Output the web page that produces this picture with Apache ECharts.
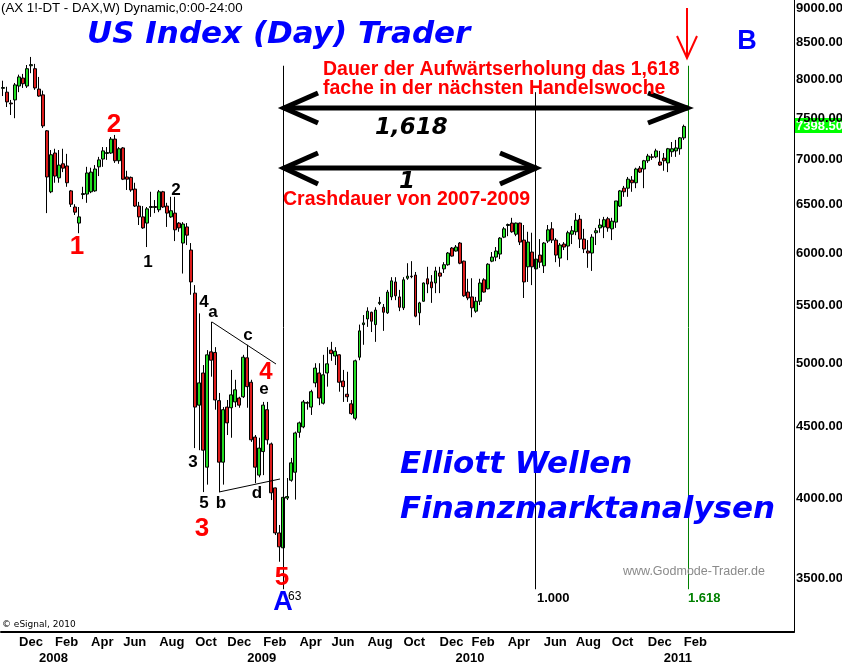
<!DOCTYPE html>
<html>
<head>
<meta charset="utf-8">
<script src="https://cdn.jsdelivr.net/npm/echarts@6/dist/echarts.min.js"></script>
<style>
  html, body { margin: 0; padding: 0; background: #fff; }
  #chart { width: 842px; height: 663px; }
</style>
</head>
<body>
<div id="chart"></div>
<script>
// DAX future, weekly bars. first bar = week of Mon 2007-11-05
const firstMonday = Date.UTC(2007, 10, 5);
const weekSlots = 198; // bars + empty space on the right

const open = [
  7880, 7830, 7690, 7730, 7910, 8015, 7910, 8180, 8140, 7870,
  7795, 7345, 6640, 7080, 6795, 6955, 6930, 6650, 6475, 6305,
  6610, 6615, 6640, 6650, 6920, 7010, 7075, 7080, 7245, 6990,
  7140, 6805, 6800, 6670, 6485, 6370, 6305, 6470, 6480, 6445,
  6640, 6485, 6370, 6410, 6305, 6100, 6265, 6030, 5615, 4665,
  4920, 4210, 5095, 5090, 4700, 4245, 4650, 4645, 4690, 4720,
  4730, 5045, 4845, 4425, 4155, 4320, 4630, 4375, 4068, 3776,
  3684, 4000, 4120, 4175, 4460, 4500, 4685, 4650, 4840, 4920,
  4680, 4920, 5110, 5060, 5070, 4855, 4750, 4675, 4565, 5050,
  5330, 5380, 5440, 5330, 5520, 5485, 5435, 5580, 5720, 5580,
  5480, 5755, 5775, 5785, 5435, 5540, 5750, 5720, 5710, 5805,
  5845, 5885, 6050, 6020, 6100, 5920, 5625, 5580, 5450, 5540,
  5740, 5655, 5920, 5960, 5990, 6160, 6280, 6305, 6190, 6305,
  6130, 5865, 6010, 5845, 5980, 5875, 6120, 6245, 6130, 5950,
  6090, 6070, 6190, 6215, 6345, 6140, 6020, 6000, 6205, 6255,
  6265, 6350, 6245, 6315, 6485, 6680, 6680, 6770, 6740, 6905,
  6895, 6990, 7035, 7035, 6975, 7020, 6965, 7095, 7105, 7130,
  7260
];
const close = [
  7890, 7705, 7680, 7925, 8030, 7940, 8140, 8195, 7885, 7780,
  7405, 6805, 7060, 6815, 6940, 6905, 6740, 6505, 6420, 6370,
  6620, 6850, 6860, 6895, 7000, 7105, 7085, 7245, 6990, 7130,
  6780, 6780, 6660, 6485, 6370, 6255, 6455, 6480, 6470, 6640,
  6475, 6410, 6435, 6235, 6255, 6295, 6180, 5720, 4650, 4840,
  4330, 5070, 5025, 4705, 4245, 4630, 4530, 4745, 4785, 4665,
  5050, 4810, 4405, 4210, 4345, 4665, 4405, 4035, 3776, 3690,
  4005, 4010, 4240, 4455, 4530, 4690, 4680, 4770, 4960, 4720,
  4905, 4995, 5080, 5100, 4845, 4810, 4730, 4600, 5020, 5275,
  5345, 5450, 5360, 5460, 5530, 5440, 5625, 5730, 5590, 5485,
  5740, 5775, 5770, 5405, 5525, 5710, 5700, 5665, 5825, 5775,
  5885, 6000, 5970, 6060, 5900, 5590, 5570, 5480, 5540, 5710,
  5625, 5890, 5960, 6020, 6150, 6245, 6290, 6215, 6305, 6110,
  5720, 6110, 5865, 5940, 5910, 6100, 6235, 6130, 5980, 6080,
  6060, 6205, 6225, 6335, 6140, 6040, 6000, 6160, 6225, 6285,
  6340, 6255, 6325, 6540, 6650, 6640, 6780, 6740, 6895, 6860,
  6990, 7045, 7030, 7105, 6940, 6990, 7130, 7130, 7140, 7260,
  7398.5
];
const low = [
  7780, 7640, 7540, 7500, 7830, 7885, 7885, 8080, 7860, 7770,
  7380, 6410, 6625, 6740, 6740, 6860, 6695, 6475, 6390, 6200,
  6560, 6520, 6625, 6640, 6815, 6920, 7000, 7070, 6965, 6955,
  6770, 6660, 6640, 6475, 6285, 6245, 6060, 6370, 6410, 6420,
  6465, 6265, 6360, 6120, 6215, 5800, 6080, 5600, 4345, 4330,
  4040, 4090, 4890, 4630, 4040, 4090, 4440, 4420, 4650, 4645,
  4720, 4645, 4390, 4100, 4140, 4155, 4370, 3987, 3763, 3600,
  3670, 3987, 4110, 3990, 4420, 4490, 4630, 4590, 4805, 4665,
  4670, 4810, 5020, 4985, 4770, 4690, 4690, 4590, 4550, 5025,
  5155, 5310, 5265, 5180, 5505, 5275, 5425, 5550, 5550, 5450,
  5460, 5740, 5755, 5395, 5325, 5535, 5615, 5525, 5615, 5615,
  5805, 5875, 5965, 6015, 5890, 5580, 5550, 5395, 5435, 5505,
  5620, 5650, 5910, 5920, 5940, 6150, 6170, 6205, 6170, 6080,
  5570, 5720, 5690, 5815, 5855, 5805, 6100, 6100, 5910, 5865,
  6030, 5930, 6090, 6180, 6050, 6000, 5855, 5825, 6080, 6205,
  6150, 6215, 6130, 6255, 6475, 6585, 6585, 6640, 6680, 6850,
  6680, 6965, 7000, 7020, 6930, 6875, 6860, 7035, 7035, 7060,
  7235
];
const high = [
  7980, 7900, 7730, 7950, 8060, 8070, 8190, 8300, 8205, 8030,
  7850, 7355, 7115, 7130, 7115, 7130, 7070, 6660, 6505, 6475,
  6695, 6920, 6910, 6940, 7035, 7150, 7150, 7270, 7295, 7150,
  7150, 6875, 6810, 6740, 6530, 6485, 6475, 6640, 6550, 6660,
  6650, 6520, 6585, 6585, 6315, 6315, 6305, 6100, 5690, 5430,
  4985, 5110, 5355, 5135, 4760, 4650, 4705, 4945, 4865, 4730,
  5070, 5155, 4865, 4440, 4420, 4690, 4690, 4385, 4070, 3826,
  4020, 4135, 4275, 4465, 4540, 4705, 4695, 4785, 5000, 5000,
  5070, 5135, 5180, 5135, 5075, 4945, 4930, 4705, 5030, 5330,
  5415, 5485, 5445, 5485, 5580, 5515, 5645, 5765, 5765, 5645,
  5765, 5900, 5920, 5815, 5535, 5715, 5865, 5785, 5865, 5865,
  5910, 6010, 6060, 6080, 6110, 5925, 5750, 5755, 5580, 5750,
  5755, 5900, 6010, 6060, 6160, 6265, 6300, 6360, 6310, 6310,
  6285, 6215, 6205, 6030, 6140, 6110, 6285, 6315, 6150, 6100,
  6110, 6225, 6275, 6410, 6390, 6245, 6130, 6190, 6255, 6350,
  6370, 6370, 6360, 6540, 6660, 6705, 6805, 6815, 6910, 6930,
  7000, 7070, 7070, 7130, 7105, 7080, 7140, 7210, 7235, 7270,
  7420
];

const priceTicks = [3500, 4000, 4500, 5000, 5500, 6000, 6500, 7000, 7500, 8000, 8500, 9000];
const monthNames = ['Jan', 'Feb', 'Mar', 'Apr', 'May', 'Jun', 'Jul', 'Aug', 'Sep', 'Oct', 'Nov', 'Dec'];
const shownMonths = [11, 1, 3, 5, 7, 9]; // Dec Feb Apr Jun Aug Oct
const fibBars = [70, 133, 171]; // 0 / 1.000 / 1.618
const lastPrice = 7398.5;

const lg = Math.log10;

// week categories (Monday dates)
const weeks = [];
for (let i = 0; i < weekSlots; i++) {
  const d = new Date(firstMonday + i * 7 * 86400000);
  weeks.push(d.toISOString().slice(0, 10));
}
const isFirstMonday = (idx) => idx < open.length && Number(weeks[idx].slice(8, 10)) <= 7;
const monthOf = (idx) => Number(weeks[idx].slice(5, 7)) - 1;

// log scale done by hand so the tick labels can be 500 apart
const candles = open.map((o, i) => [lg(o), lg(close[i]), lg(low[i]), lg(high[i])]);

const axisFont = { color: '#000', fontFamily: 'Liberation Sans', fontWeight: 'bold', fontSize: 13 };

const chart = echarts.init(document.getElementById('chart'), null, { renderer: 'canvas' });

const txt = (x, y, text, font, fill, align) => ({
  type: 'text', x: x, y: y, z: 100, silent: true,
  style: { text: text, font: font, fill: fill,
    align: align || 'left', verticalAlign: 'middle',
    textAlign: align || 'left', textVerticalAlign: 'middle' }
});
const seg = (pts, width, color) => ({
  type: 'polyline', z: 90, silent: true,
  shape: { points: pts },
  style: { stroke: color || '#000', lineWidth: width, fill: null }
});

const blueBig = 'italic bold 31px "DejaVu Sans"';
const redText = 'bold 19.5px "Liberation Sans"';
const waveRed = 'bold 26px "Liberation Sans"';
const waveBlack = 'bold 17px "Liberation Sans"';

const vLine = (bar, top, color) => [
  { coord: [bar, lg(top)], lineStyle: { color: color, width: 1, type: 'solid' }, label: { show: false } },
  { coord: [bar, lg(3440)] }
];

const option = {
  animation: false,
  backgroundColor: '#fff',
  grid: { left: 1, right: 48, top: 0, bottom: 31, outerBoundsMode: 'none', containLabel: false },
  xAxis: [
    {
      type: 'category',
      data: weeks,
      boundaryGap: true,
      axisLine: { onZero: false, lineStyle: { color: '#000', width: 2 } },
      axisTick: { show: false },
      splitLine: { show: false },
      axisLabel: Object.assign({}, axisFont, {
        margin: 4,
        align: 'left',
        interval: (idx) => isFirstMonday(idx) && shownMonths.includes(monthOf(idx)),
        formatter: (v) => monthNames[Number(v.slice(5, 7)) - 1]
      })
    },
    {
      type: 'category',
      data: weeks,
      position: 'bottom',
      offset: 16,
      axisLine: { show: false },
      axisTick: { show: false },
      splitLine: { show: false },
      axisLabel: Object.assign({}, axisFont, {
        margin: 4,
        align: 'left',
        interval: (idx) => isFirstMonday(idx) && monthOf(idx) === 0,
        formatter: (v) => v.slice(0, 4)
      })
    }
  ],
  yAxis: {
    type: 'value',
    position: 'right',
    min: lg(3205),
    max: lg(9120),
    axisLine: { show: true, lineStyle: { color: '#000', width: 1 } },
    axisTick: { show: false },
    splitLine: { show: false },
    axisLabel: Object.assign({}, axisFont, {
      margin: 2,
      customValues: priceTicks.map(lg),
      formatter: (v) => Math.pow(10, v).toFixed(2)
    })
  },
  series: [
    {
      type: 'candlestick',
      xAxisIndex: 0,
      data: candles,
      barWidth: 3.4,
      itemStyle: {
        color: '#22dd22',
        color0: '#dd1c1c',
        borderColor: '#000',
        borderColor0: '#000',
        borderWidth: 1
      },
      markLine: {
        silent: true,
        symbol: 'none',
        animation: false,
        data: [
          vLine(fibBars[0], 8180, '#000'),
          vLine(fibBars[1], 7830, '#000'),
          vLine(fibBars[2], 8180, '#008000')
        ]
      }
    }
  ],
  graphic: [
    txt(1, 8, '(AX 1!-DT - DAX,W) Dynamic,0:00-24:00', '13.3px "Liberation Sans"', '#000'),
    txt(87, 35, 'US Index (Day) Trader', blueBig, '#0000ff'),
    txt(747, 42, 'B', 'bold 27px "Liberation Sans"', '#0000ff', 'center'),

    // red arrow top right
    seg([[687, 8], [687, 58]], 2, '#ff0000'),
    seg([[677, 36], [687, 58], [697, 36]], 2, '#ff0000'),

    txt(323, 70, 'Dauer der Aufwärtserholung das 1,618', redText, '#ff0000'),
    txt(323, 89, 'fache in der nächsten Handelswoche', redText, '#ff0000'),

    // 1,618 arrow
    seg([[283, 108], [688, 108]], 5),
    seg([[318, 93], [284, 108], [318, 123]], 5),
    seg([[648, 93], [687, 108], [648, 123]], 5),
    txt(375, 128, '1,618', 'italic bold 23px "DejaVu Sans"', '#000'),

    // 1 arrow
    seg([[283, 168], [537, 168]], 5),
    seg([[318, 153], [284, 168], [318, 184]], 5),
    seg([[500, 153], [536, 168], [500, 184]], 5),
    txt(399, 182, '1', 'italic bold 23px "DejaVu Sans"', '#000'),
    txt(283, 200, 'Crashdauer von 2007-2009', redText, '#ff0000'),

    // triangle a-b-c-d-e
    seg([[212, 322], [276, 364]], 1),
    seg([[219, 492], [280, 479]], 1),

    // wave counts
    txt(77, 247, '1', waveRed, '#ff0000', 'center'),
    txt(114, 125, '2', waveRed, '#ff0000', 'center'),
    txt(202, 529, '3', waveRed, '#ff0000', 'center'),
    txt(266, 372, '4', 'bold 24px "Liberation Sans"', '#ff0000', 'center'),
    txt(282, 578, '5', waveRed, '#ff0000', 'center'),
    txt(148, 262, '1', waveBlack, '#000', 'center'),
    txt(176, 190, '2', waveBlack, '#000', 'center'),
    txt(193, 462, '3', waveBlack, '#000', 'center'),
    txt(204, 302, '4', waveBlack, '#000', 'center'),
    txt(204, 503, '5', waveBlack, '#000', 'center'),
    txt(213, 312, 'a', waveBlack, '#000', 'center'),
    txt(221, 503, 'b', waveBlack, '#000', 'center'),
    txt(248, 335, 'c', waveBlack, '#000', 'center'),
    txt(257, 493, 'd', waveBlack, '#000', 'center'),
    txt(264, 389, 'e', waveBlack, '#000', 'center'),
    txt(288, 597, '63', '12px "Liberation Sans"', '#000'),
    txt(283, 603, 'A', 'bold 27px "Liberation Sans"', '#0000ff', 'center'),

    txt(400, 465, 'Elliott Wellen', blueBig, '#0000ff'),
    txt(400, 510, 'Finanzmarktanalysen', blueBig, '#0000ff'),
    txt(623, 572, 'www.Godmode-Trader.de', '12.5px "Liberation Sans"', '#8a8a8a'),
    txt(537, 598, '1.000', 'bold 13px "Liberation Sans"', '#000'),
    txt(688, 598, '1.618', 'bold 13px "Liberation Sans"', '#008000'),
    txt(2, 625, '\u00a9 eSignal, 2010', '9px "DejaVu Sans"', '#000')
  ]
};

chart.setOption(option);

// last price tag on the right axis, placed through the y axis
const tagY = chart.convertToPixel({ yAxisIndex: 0 }, lg(lastPrice));
option.graphic.push({
  type: 'group', x: 795, y: Math.round(tagY) - 8, z: 120, silent: true,
  children: [
    { type: 'rect', shape: { x: 0, y: 0, width: 47, height: 15 }, style: { fill: '#00ff00' } },
    { type: 'text', x: 1, y: 8, style: { text: lastPrice.toFixed(2), font: 'bold 13px "Liberation Sans"', fill: '#fff',
      align: 'left', verticalAlign: 'middle', textAlign: 'left', textVerticalAlign: 'middle' } }
  ]
});
chart.setOption(option);

window.addEventListener('resize', function () {
  chart.resize();
});
</script>
</body>
</html>
